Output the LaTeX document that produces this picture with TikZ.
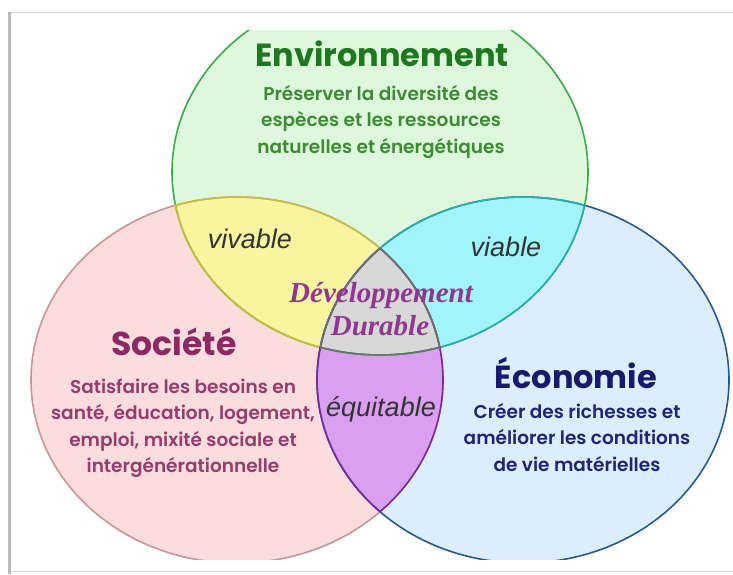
\documentclass[tikz,border=0pt]{standalone}
\usepackage{fontspec}
\setmainfont{Poppins}
\newfontfamily\popbold{Poppins}[UprightFont={* Bold}]
\newfontfamily\popsemi{Poppins}[UprightFont={* SemiBold}]
\newfontfamily\arialish{Liberation Sans}
\newfontfamily\timesish{Liberation Serif}

\definecolor{envfill}{RGB}{222,248,222}
\definecolor{envline}{RGB}{60,170,70}
\definecolor{envtitle}{RGB}{30,120,30}
\definecolor{envtext}{RGB}{60,140,50}
\definecolor{socfill}{RGB}{252,221,221}
\definecolor{socline}{RGB}{200,150,150}
\definecolor{soctitle}{RGB}{140,40,100}
\definecolor{soctext}{RGB}{150,60,110}
\definecolor{ecofill}{RGB}{220,238,252}
\definecolor{ecoline}{RGB}{40,90,140}
\definecolor{ecotitle}{RGB}{25,25,110}
\definecolor{ecotext}{RGB}{35,35,120}
\definecolor{yelfill}{RGB}{248,244,160}
\definecolor{yelline}{RGB}{200,190,60}
\definecolor{cyanfill}{RGB}{160,244,250}
\definecolor{cyanline}{RGB}{40,175,180}
\definecolor{purpfill}{RGB}{218,160,240}
\definecolor{purpline}{RGB}{120,40,160}
\definecolor{corefill}{RGB}{216,216,216}
\definecolor{coreline}{RGB}{110,110,110}
\definecolor{ddtext}{RGB}{145,55,145}
\definecolor{framegray}{RGB}{215,215,215}

\tikzset{
  envE/.style={insert path={(380,172) ellipse [x radius=208pt, y radius=183pt]}},
  socE/.style={insert path={(237,380) ellipse [x radius=206pt, y radius=183pt]}},
  ecoE/.style={insert path={(523,380) ellipse [x radius=206pt, y radius=183pt]}},
  rim/.style={line width=1.6pt},
  title/.style={inner sep=0pt, anchor=base, font=\popbold\fontsize{32}{32}\selectfont},
  body/.style={inner sep=0pt, anchor=base, font=\popsemi\fontsize{18.5}{26.5}\selectfont},
  zone/.style={inner sep=0pt, anchor=base, text=black!80, font=\arialish\itshape\fontsize{27}{27}\selectfont},
  core/.style={inner sep=0pt, anchor=base, text=ddtext, font=\timesish\bfseries\itshape\fontsize{29}{29}\selectfont},
}

\begin{document}
\begin{tikzpicture}[x=1pt,y=-1pt]
\useasboundingbox (0,0) rectangle (733,574);
\fill[white] (0,0) rectangle (733,574);

% frame around the figure
\draw[framegray, line width=0.8pt] (9,12) -- (733,12);
\draw[framegray, line width=0.8pt] (9,571) -- (733,571);
\fill[gray!55] (8,12) rectangle (11,574);

\begin{scope}
\clip (11,30) rectangle (733,559);
% the three pillars
\fill[envfill, envE];
\fill[socfill, socE];
\fill[ecofill, ecoE];
% pairwise overlaps
\begin{scope}\clip[socE]; \fill[yelfill, envE];\end{scope}
\begin{scope}\clip[ecoE]; \fill[cyanfill, envE];\end{scope}
\begin{scope}\clip[socE]; \fill[purpfill, ecoE];\end{scope}
% centre of the diagram
\begin{scope}\clip[socE]; \clip[ecoE]; \fill[corefill, envE];\end{scope}
% outlines
\draw[rim, envline, envE];
\draw[rim, socline, socE];
\draw[rim, ecoline, ecoE];
\begin{scope}\clip[socE]; \draw[rim, yelline, envE];\end{scope}
\begin{scope}\clip[envE]; \draw[rim, yelline, socE];\end{scope}
\begin{scope}\clip[ecoE]; \draw[rim, cyanline, envE];\end{scope}
\begin{scope}\clip[envE]; \draw[rim, cyanline, ecoE];\end{scope}
\begin{scope}\clip[socE]; \draw[rim, purpline, ecoE];\end{scope}
\begin{scope}\clip[ecoE]; \draw[rim, purpline, socE];\end{scope}
\begin{scope}\clip[socE]; \clip[ecoE]; \draw[rim, coreline, envE];\end{scope}
\begin{scope}\clip[envE]; \clip[ecoE]; \draw[rim, coreline, socE];\end{scope}
\begin{scope}\clip[envE]; \clip[socE]; \draw[rim, coreline, ecoE];\end{scope}
\end{scope}

% Environnement
\node[title, text=envtitle] (envT) at (382,66) {Environnement};
\node[body, text=envtext] (envB) at (381,100) {\begin{tabular}[t]{@{}c@{}}Préserver la diversité des\\ espèces et les ressources\\ naturelles et énergétiques\end{tabular}};

% Société
\node[title, text=soctitle, font=\popbold\fontsize{33}{33}\selectfont] (socT) at (174,355) {Société};
\node[body, text=soctext] (socB) at (183,393) {\begin{tabular}[t]{@{}c@{}}Satisfaire les besoins en\\ santé, éducation, logement,\\ emploi, mixité sociale et\\ intergénérationnelle\end{tabular}};

% Économie
\node[title, text=ecotitle] (ecoT) at (576,388) {Économie};
\node[body, text=ecotext] (ecoB) at (577,418) {\begin{tabular}[t]{@{}c@{}}Créer des richesses et\\ améliorer les conditions\\ de vie matérielles\end{tabular}};

% overlap labels
\node[zone] (viv) at (250,248) {vivable};
\node[zone] (via) at (506,256) {viable};
\node[zone] (equ) at (381,416) {équitable};
\node[core] (dd1) at (381,302) {Développement};
\node[core] (dd2) at (380,335) {Durable};
\end{tikzpicture}
\end{document}
